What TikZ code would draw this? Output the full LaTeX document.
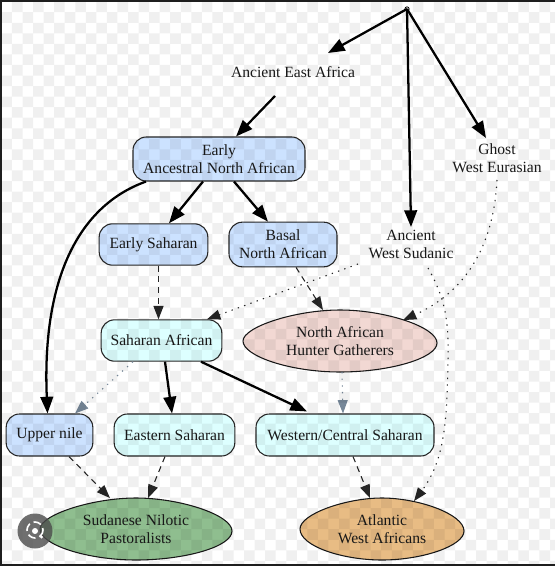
\documentclass[tikz,border=0pt]{standalone}
\usepackage{fontspec}
\setmainfont{Liberation Serif}
\usetikzlibrary{arrows.meta,shapes.geometric,calc}
\definecolor{blueN}{HTML}{CCE2FF}
\definecolor{cyanN}{HTML}{DDFFFF}
\definecolor{pinkN}{HTML}{F2D8D3}
\definecolor{greenN}{HTML}{8FBE8F}
\definecolor{tanN}{HTML}{E8BC84}
\definecolor{slateE}{HTML}{778899}
\definecolor{frameC}{HTML}{1E1E1E}
\tikzset{
  x=0.75pt,y=-0.75pt,
  lbl/.style={font=\fontsize{11.7pt}{13.5pt}\selectfont,align=center,inner sep=0pt,text=black!90},
  boxn/.style={lbl,draw=black!85,line width=0.8pt,rounded corners=10pt,anchor=center},
  free/.style={lbl,ellipse,minimum width=#1},
  free/.default=100pt,
  lensline/.style={draw=black!90,line width=0.8pt},
  heavy/.style={draw=black,line width=1.7pt,-{Triangle[length=12.5pt,width=9.5pt]}},
  dashE/.style={draw=black!85,line width=0.8pt,dash pattern=on 4.5pt off 3.5pt,-{Triangle[length=10pt,width=7.5pt]}},
  dotE/.style={draw=black!85,line width=0.8pt,dash pattern=on 1pt off 4pt,-{Triangle[length=10pt,width=7.5pt]}},
  dotS/.style={draw=slateE,line width=0.8pt,dash pattern=on 1pt off 4pt,-{Triangle[length=10pt,width=7.5pt]}},
}
\begin{document}
\begin{tikzpicture}
\useasboundingbox (0,0) rectangle (555,566);
\fill[white] (0,0) rectangle (555,566);
% lens-shaped fills
\path[lensline,fill=pinkN] (243,341) .. controls (243,327) and (295,310) .. (340,310)
  .. controls (385,310) and (437,327) .. (437,343)
  .. controls (437,358) and (390,372) .. (340,372)
  .. controls (290,372) and (243,356) .. (243,341) -- cycle;
\path[lensline,fill=greenN] (40,529) .. controls (40,515) and (92,498) .. (136,498)
  .. controls (180,498) and (232,515) .. (232,531)
  .. controls (232,547) and (184,560) .. (136,560)
  .. controls (88,560) and (40,545) .. (40,529) -- cycle;
\path[lensline,fill=tanN] (300,529) .. controls (300,514) and (346,498) .. (382,498)
  .. controls (418,498) and (464,514) .. (464,531)
  .. controls (464,546) and (422,560) .. (382,560)
  .. controls (342,560) and (300,546) .. (300,529) -- cycle;
% nodes
\node[draw=black,circle,fill=white,inner sep=0pt,minimum size=3.2pt,line width=0.6pt] (top) at (407,9) {};
\node[free=118pt,minimum height=36pt] (aea) at (293,72) {Ancient East Africa};
\node[free=110pt,minimum height=30pt] (aws) at (411,244) {Ancient\\West Sudanic};
\node[free=110pt,minimum height=30pt] (gwe) at (497,158) {Ghost\\West Eurasian};
\node[boxn,fill=blueN,minimum width=129pt,minimum height=33pt] (eana) at (219,159) {Early\\Ancestral North African};
\node[boxn,fill=blueN,minimum width=81.5pt,minimum height=31pt] (esa) at (153.5,244.5) {Early Saharan};
\node[boxn,fill=blueN,minimum width=81pt,minimum height=33.5pt] (bna) at (283,244.5) {Basal\\North African};
\node[boxn,fill=cyanN,minimum width=90.5pt,minimum height=31pt] (sah) at (161.5,340.5) {Saharan African};
\node[boxn,fill=blueN,minimum width=65pt,minimum height=31.5pt] (upn) at (49.5,435) {Upper nile};
\node[boxn,fill=cyanN,minimum width=90.5pt,minimum height=31.5pt] (eas) at (174.5,435) {Eastern Saharan};
\node[boxn,fill=cyanN,minimum width=133.5pt,minimum height=31.5pt] (wes) at (345,435) {Western/Central Saharan};
\node[lbl,ellipse,minimum width=145pt,minimum height=46pt] (nah) at (340,341) {North African\\Hunter Gatherers};
\node[lbl,ellipse,minimum width=144pt,minimum height=46pt] (sud) at (136,529) {Sudanese Nilotic\\Pastoralists};
\node[lbl,ellipse,minimum width=123pt,minimum height=46pt] (atl) at (382,529) {Atlantic\\West Africans};
% connectors
\draw[heavy] (top.center) -- ($(aea)+(35,-19)$);
\draw[heavy] (top.center) -- ($(aws)+(0,-17)$);
\draw[heavy] (top.center) -- ($(gwe)+(-11,-20)$);
\draw[heavy] ($(aea)+(-18,24)$) -- ($(eana.north)+(17,0)$);
\draw[heavy] ($(eana.south)+(-16,0)$) -- ($(esa.north)+(15.5,0)$);
\draw[heavy] ($(eana.south)+(15,0)$) -- ($(bna.north)+(-15,0)$);
\draw[heavy] ($(eana.south)+(-73,0)$) .. controls (75,207) and (42,285) .. ($(upn.north)+(-2,0)$);
\draw[dashE] ($(esa.south)+(5,0)$) -- ($(sah.north)+(-3,0)$);
\draw[dashE] ($(bna.south)+(13,0)$) -- ($(nah.north)+(-17,0)$);
\draw[dotE] ($(aws)+(-53,20)$) -- ($(sah.north)+(45.5,0)$);
\draw[dotE] ($(gwe)+(0,22)$) .. controls (494,240) and (470,290) .. ($(nah.north)+(63,10)$);
\draw[dotE] ($(aws)+(17,24)$) .. controls (445,298) and (449,320) .. (448,360)
  .. controls (447,420) and (445,460) .. ($(atl.north)+(32,3)$);
\draw[dotS] ($(sah.south)+(-28.5,0)$) -- ($(upn.north)+(25.5,0)$);
\draw[heavy] ($(sah.south)+(3.5,0)$) -- ($(eas.north)+(-2.5,0)$);
\draw[heavy] ($(sah.south)+(39.5,0)$) -- ($(wes.north)+(-38,-2)$);
\draw[dotS] ($(nah.south)+(2,0)$) -- ($(wes.north)+(-2,0)$);
\draw[dashE] ($(upn.south)+(19.5,0)$) -- ($(sud.north)+(-26,0)$);
\draw[dashE] ($(eas.south)+(-9.5,0)$) -- ($(sud.north)+(12,0)$);
\draw[dashE] ($(wes.south)+(8,0)$) -- ($(atl.north)+(-12,0)$);
% transparency checker seen through the image
\fill[black,opacity=0.06]
  \foreach \i in {0,...,52}{\foreach \j in {0,...,53}{
    \ifodd\numexpr\i+\j\relax
      ({1.4+10.55*\i},{1.7+10.55*\j}) rectangle ++(10.55,10.55)
    \fi
  }};
% search badge
\fill[black!70,opacity=0.8] (35,531) circle (17.5);
\draw[white,line width=1.2pt,dash pattern=on 6pt off 3pt] (35,530) circle (8);
\fill[white] (35,531) circle (3);
\fill[white] (41.5,537) circle (1.6);
% frame
\fill[frameC] (0,0) rectangle (555,2);
\fill[frameC] (0,0) rectangle (2,566);
\fill[frameC] (0,564) rectangle (555,566);
\end{tikzpicture}
\end{document}
